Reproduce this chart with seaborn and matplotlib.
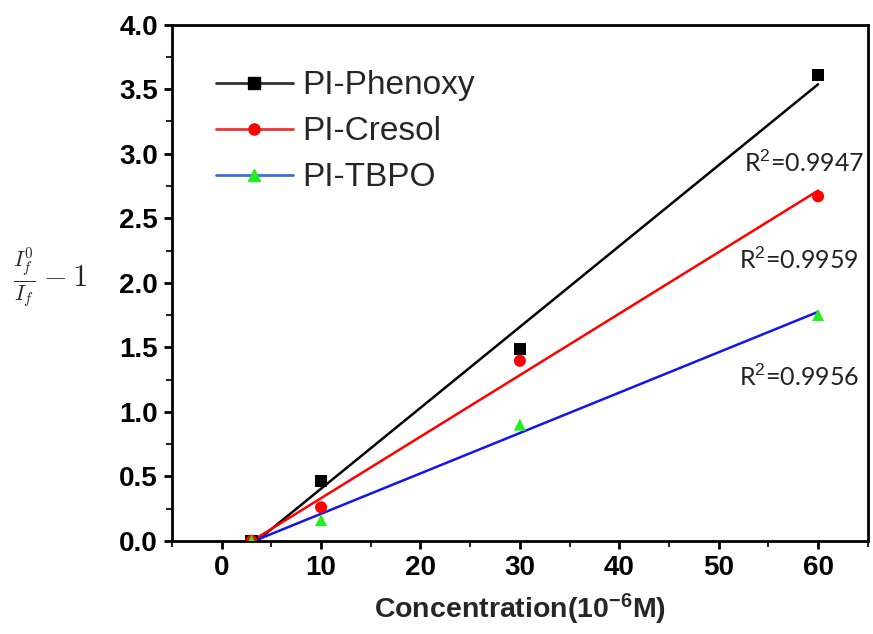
import numpy as np
import pandas as pd
import matplotlib
matplotlib.use("Agg")
import matplotlib.pyplot as plt
from matplotlib.lines import Line2D
from matplotlib.ticker import MultipleLocator, FormatStrFormatter
import seaborn as sns

# data
conc = [3, 10, 30, 60]
phenoxy = [0.0, 0.465, 1.49, 3.61]
cresol = [0.0, 0.26, 1.395, 2.67]
tbpo = [0.0, 0.16, 0.90, 1.75]
series_names = ["PI-Phenoxy", "PI-Cresol", "PI-TBPO"]
r2_labels = ["R$^2$=0.9947", "R$^2$=0.9959", "R$^2$=0.9956"]

sns.set_theme(style="ticks")
plt.rcParams['font.family'] = ['Liberation Sans', 'DejaVu Sans']
plt.rcParams['mathtext.fontset'] = 'custom'
plt.rcParams['mathtext.rm'] = 'Liberation Sans'
plt.rcParams['mathtext.bf'] = 'Liberation Sans:bold'
plt.rcParams['mathtext.it'] = 'Liberation Sans:italic'

fig = plt.figure(figsize=(8.73, 6.34), dpi=100)
ax = fig.add_axes([0.197, 0.147, 0.797, 0.814])

styles = [
    dict(line="black", face="black", marker="s"),
    dict(line="red", face="red", marker="o"),
    dict(line="#1414ee", face="#22ee22", marker="^"),
]
legend_line = ["#333333", "#ee3333", "#3a6fd8"]
ys = [phenoxy, cresol, tbpo]
handles = []
for name, y, st, lc in zip(series_names, ys, styles, legend_line):
    df = pd.DataFrame({"x": conc, "y": y})
    sns.regplot(data=df, x="x", y="y", ax=ax, ci=None, truncate=True,
                marker=st["marker"],
                scatter_kws=dict(color=st["face"], s=75, edgecolor="none", alpha=1, zorder=3),
                line_kws=dict(color=st["line"], lw=1.8, zorder=2))
    handles.append(Line2D([0], [0], color=lc, lw=2, marker=st["marker"],
                          markerfacecolor=st["face"], markeredgecolor=st["face"],
                          markersize=8, label=name))

ax.set_xlim(-5, 65)
ax.set_ylim(0, 4.0)
ax.xaxis.set_major_locator(MultipleLocator(10))
ax.xaxis.set_minor_locator(MultipleLocator(5))
ax.yaxis.set_major_locator(MultipleLocator(0.5))
ax.yaxis.set_minor_locator(MultipleLocator(0.25))
ax.yaxis.set_major_formatter(FormatStrFormatter("%.1f"))

for sp in ax.spines.values():
    sp.set_linewidth(2)
    sp.set_color("black")
ax.tick_params(which="major", direction="out", length=6, width=2, labelsize=20,
               colors="black", pad=4)
ax.tick_params(which="minor", direction="out", length=4, width=1.5)
for lab in ax.get_xticklabels() + ax.get_yticklabels():
    lab.set_fontweight("bold")

ax.set_xlabel("Concentration(10$^{\\mathbf{-6}}$M)", fontsize=20.5, fontweight="bold", labelpad=8)
ax.set_ylabel(r"$\frac{I_f^0}{I_f}-1$", fontsize=22, rotation=0, va="center",
              math_fontfamily="cm")
ax.yaxis.set_label_coords(-0.175, 0.51)

ax.legend(handles=handles, loc="upper left", bbox_to_anchor=(0.02, 0.97),
          frameon=False, fontsize=24, handlelength=2.3, labelspacing=0.45,
          handletextpad=0.3)

r2_pos = [(64.6, 2.93), (64.1, 2.18), (64.1, 1.27)]
for (tx, ty), lab in zip(r2_pos, r2_labels):
    ax.text(tx, ty, lab, fontsize=18, ha="right", va="center",
            family=["Lato", "DejaVu Sans"], color="#222222")

fig.savefig("out.png", dpi=100)
